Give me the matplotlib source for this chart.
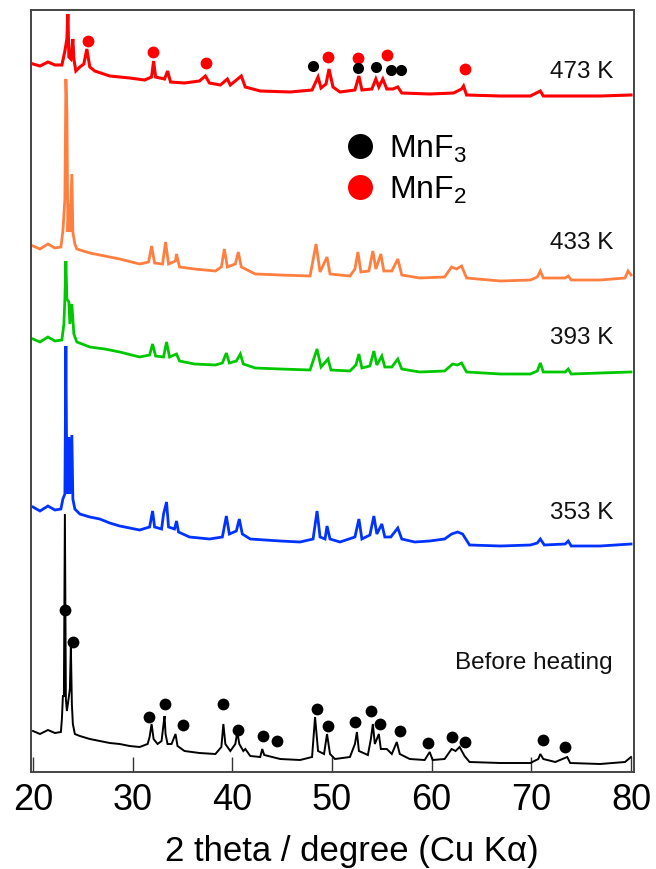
import matplotlib
matplotlib.use("Agg")
import matplotlib.pyplot as plt
from matplotlib.lines import Line2D

plt.rcParams['font.family'] = ['Liberation Sans', 'DejaVu Sans']
plt.rcParams['mathtext.fontset'] = 'custom'
plt.rcParams['mathtext.rm'] = 'Liberation Sans'
plt.rcParams['mathtext.it'] = 'Liberation Sans:italic'

# XRD patterns, (2theta, counts relative to the trace's own baseline)
before = [(20.0, 1), (20.7, -2), (21.5, 2), (22.2, -1), (22.8, 0), (22.9, 13), (23.0, 36), (23.1, 36),
          (23.2, 218), (23.3, 33), (23.4, 21), (23.5, 28), (23.7, 43), (23.8, 85), (23.9, 28), (24.0, 8),
          (24.2, -2), (24.7, -4), (25.7, -7), (26.7, -9), (27.7, -11), (28.7, -12), (29.7, -14), (30.7, -15),
          (31.5, -12), (31.7, -5), (31.9, 8), (32.1, -7), (32.5, -12), (32.9, -9), (33.1, 8), (33.2, 16),
          (33.3, -2), (33.5, -12), (33.9, -12), (34.3, -2), (34.5, -14), (35.2, -19), (36.7, -21), (38.3, -22),
          (38.9, -15), (39.1, 8), (39.3, -12), (39.8, -19), (40.3, -12), (40.5, 0), (40.7, -12), (41.1, -19),
          (41.3, -17), (41.8, -24), (42.8, -25), (43.0, -17), (43.2, -23), (44.8, -27), (46.8, -28), (48.0, -25),
          (48.3, 15), (48.6, -19), (49.2, -22), (49.5, -2), (49.8, -22), (50.3, -27), (51.8, -25), (52.3, -12),
          (52.5, 0), (52.7, -19), (53.6, -23), (53.9, -7), (54.1, 8), (54.3, -12), (54.7, -2), (54.9, -17),
          (55.5, -17), (56.0, -22), (56.5, -10), (56.8, -22), (57.8, -27), (59.3, -28), (59.8, -20), (60.1, -28),
          (61.3, -27), (62.0, -17), (62.4, -19), (62.8, -15), (63.3, -24), (63.8, -30), (66.9, -31), (69.9, -31),
          (70.7, -27), (70.9, -22), (71.2, -27), (72.4, -30), (73.6, -25), (73.9, -31), (76.9, -32), (79.4, -30),
          (80.0, -25)]

k353 = [(20.0, 1), (20.7, -3), (21.5, 2), (22.2, -2), (22.8, -1), (23.0, 9), (23.2, 14), (23.3, 162),
        (23.4, 14), (23.6, 71), (23.7, 14), (23.9, 73), (24.0, 9), (24.2, -1), (24.7, -6), (25.7, -9),
        (26.7, -11), (27.7, -15), (28.7, -18), (29.7, -20), (30.7, -22), (31.7, -19), (32.0, -3), (32.2, -19),
        (32.9, -21), (33.1, -6), (33.4, 6), (33.6, -19), (34.2, -21), (34.4, -13), (34.6, -24), (35.7, -29),
        (37.7, -31), (39.0, -29), (39.4, -8), (39.7, -26), (40.4, -23), (40.7, -11), (41.0, -26), (41.8, -31),
        (43.3, -32), (44.8, -33), (46.8, -34), (48.1, -31), (48.5, -3), (48.8, -29), (49.3, -31), (49.5, -18),
        (49.8, -31), (50.8, -34), (52.3, -29), (52.7, -11), (53.0, -31), (53.8, -27), (54.2, -8), (54.5, -26),
        (55.0, -16), (55.3, -29), (55.9, -29), (56.6, -20), (57.0, -31), (58.3, -34), (59.8, -33), (61.3, -31),
        (62.0, -26), (62.6, -24), (63.1, -26), (63.8, -37), (66.9, -38), (69.9, -37), (70.6, -35), (70.9, -31),
        (71.3, -37), (73.4, -36), (73.7, -33), (74.0, -38), (76.9, -38), (80.0, -36)]

k393 = [(20.0, 0), (20.7, -3), (21.5, 2), (22.2, -2), (22.9, -1), (23.1, 15), (23.2, 40), (23.3, 78),
        (23.4, 40), (23.6, 37), (23.7, 15), (23.9, 35), (24.1, 5), (24.4, -3), (25.7, -8), (27.2, -10),
        (28.7, -13), (30.7, -18), (31.7, -16), (32.0, -5), (32.3, -17), (33.1, -18), (33.4, -3), (33.7, -18),
        (34.4, -15), (34.7, -22), (36.2, -25), (38.3, -26), (39.0, -24), (39.4, -14), (39.7, -24), (40.4, -22),
        (40.8, -15), (41.1, -25), (42.3, -29), (44.8, -30), (47.8, -31), (48.5, -10), (48.9, -28), (49.6, -20),
        (49.9, -31), (51.8, -32), (52.4, -26), (52.7, -15), (53.0, -29), (53.8, -27), (54.2, -12), (54.5, -26),
        (55.0, -17), (55.3, -28), (56.0, -28), (56.6, -20), (57.0, -30), (58.8, -33), (61.3, -32), (62.1, -25),
        (62.6, -26), (63.0, -24), (63.5, -33), (66.9, -35), (69.9, -35), (70.6, -32), (70.9, -24), (71.2, -33),
        (73.4, -33), (73.7, -30), (74.0, -35), (76.9, -34), (80.0, -33)]

k433 = [(20.0, 0), (20.7, -3), (21.5, 2), (22.2, -2), (22.8, -1), (23.0, 15), (23.2, 47), (23.3, 167),
        (23.4, 135), (23.5, 14), (23.6, 42), (23.7, 14), (23.9, 72), (24.0, 14), (24.2, 2), (24.4, -3),
        (25.7, -7), (27.2, -10), (28.7, -13), (30.7, -18), (31.6, -16), (31.9, 0), (32.2, -17), (33.0, -18),
        (33.3, 4), (33.6, -18), (34.3, -15), (34.4, -8), (34.7, -21), (36.2, -23), (38.3, -25), (38.9, -21),
        (39.2, -3), (39.5, -21), (40.3, -18), (40.6, -6), (40.9, -21), (42.3, -28), (44.8, -29), (47.8, -30),
        (48.4, 2), (48.8, -26), (49.5, -11), (49.8, -28), (51.8, -30), (52.3, -23), (52.6, -6), (52.9, -26),
        (53.7, -25), (54.1, -5), (54.4, -23), (54.9, -8), (55.2, -25), (56.0, -25), (56.6, -13), (57.0, -29),
        (58.8, -32), (61.3, -31), (62.0, -21), (62.5, -23), (63.0, -20), (63.5, -32), (66.9, -35), (69.9, -34),
        (70.6, -31), (70.9, -25), (71.2, -32), (73.4, -32), (73.7, -30), (74.0, -34), (76.9, -34), (79.4, -32),
        (79.7, -25), (80.0, -29)]

k473 = [(20.0, 0), (20.7, -2), (21.5, 2), (22.2, -1), (22.9, -1), (23.2, 13), (23.4, 25), (23.5, 50),
        (23.6, 7), (23.8, 5), (24.0, 25), (24.1, 5), (24.3, -7), (24.7, -3), (25.1, 0), (25.4, 15),
        (25.7, -3), (26.2, -7), (27.7, -12), (29.7, -14), (31.2, -16), (31.9, -13), (32.1, 3), (32.3, -13),
        (33.2, -15), (33.5, -7), (33.8, -18), (35.2, -19), (36.7, -17), (37.3, -12), (37.7, -19), (38.8, -21),
        (39.5, -15), (39.8, -21), (40.9, -12), (41.3, -23), (42.8, -27), (45.8, -28), (48.0, -26), (48.6, -13),
        (48.9, -24), (49.4, -20), (49.7, -5), (50.1, -23), (50.8, -28), (52.3, -26), (52.7, -12), (53.0, -26),
        (54.0, -25), (54.4, -15), (54.7, -23), (55.1, -15), (55.5, -25), (56.1, -25), (56.6, -23), (57.0, -29),
        (59.8, -30), (62.2, -29), (63.0, -25), (63.2, -22), (63.5, -31), (66.9, -32), (69.9, -32), (70.9, -27),
        (71.2, -32), (76.9, -32), (80.0, -31)]

traces = [before, k353, k393, k433, k473]
offsets = [40, 264, 433, 526, 708]
labels = ['Before heating', '353 K', '393 K', '433 K', '473 K']
label_y = [110, 260, 435, 530, 701]

# phase markers (2theta, height on the stacked scale)
mnf3_before_x = [23.2, 24.0, 31.6, 33.2, 35.1, 39.1, 40.6, 43.1, 44.5, 48.5, 49.6, 52.3, 53.9, 54.8,
                 56.8, 59.6, 62.0, 63.3, 71.2, 73.4]
mnf3_before_y = [162, 130, 55, 68, 47, 68, 42, 36, 31, 63, 46, 50, 61, 48, 41, 29, 35, 30, 32, 25]
mnf3_473_x = [48.1, 52.6, 54.4, 55.9, 56.9]
mnf3_473_y = [706, 704, 705, 702, 702]
mnf2_473_x = [25.5, 32.0, 37.4, 49.6, 52.6, 55.5, 63.3]
mnf2_473_y = [731, 720, 709, 715, 714, 717, 703]

colors = ['black', '#0033ff', '#00c800', '#ff7f40', '#ff0000']
widths = [1.4, 2.0, 2.0, 2.0, 2.2]

fig = plt.figure(figsize=(6.56, 8.7), dpi=100)
ax = fig.add_axes([31/656, 97/870, 603/656, 762/870])

for tr, off, c, lw in zip(traces, offsets, colors, widths):
    xs = [p[0] for p in tr]
    ys = [p[1] + off for p in tr]
    ax.plot(xs, ys, color=c, lw=lw, solid_joinstyle='miter')

for lab, ly in zip(labels, label_y):
    ax.text(78.2, ly, lab, ha='right', va='center', fontsize=17.5, color='#111111')

ax.plot(mnf3_before_x, mnf3_before_y, 'o', color='black', ms=8.5, mew=0)
ax.plot(mnf2_473_x, mnf2_473_y, 'o', color='#ff0000', ms=8.5, mew=0)
ax.plot(mnf3_473_x, mnf3_473_y, 'o', color='black', ms=8.0, mew=0)

handles = [Line2D([], [], ls='none', marker='o', color='black', ms=18, mew=0),
           Line2D([], [], ls='none', marker='o', color='#ff0000', ms=18, mew=0)]
ax.legend(handles, ['MnF$_3$', 'MnF$_2$'], loc='center left', bbox_to_anchor=(0.519, 0.791),
          frameon=False, fontsize=23, handlelength=1.0, handletextpad=0.4,
          borderpad=0, borderaxespad=0, labelspacing=0.3)

ax.set_xlim(19.8, 80.3)
ax.set_ylim(0, 762)
ax.set_xticks(range(20, 81, 10))
ax.set_yticks([])
ax.tick_params(axis='x', direction='in', length=11, width=1, color='#333333', pad=7)
for lab in ax.get_xticklabels():
    lab.set_fontsize(26)
for s in ax.spines.values():
    s.set_color('#444444')
    s.set_linewidth(1.4)
ax.set_xlabel('2 theta / degree (Cu Kα)', fontsize=25)
ax.xaxis.set_label_coords(0.532, -0.081)

fig.savefig('out.png', dpi=100)
